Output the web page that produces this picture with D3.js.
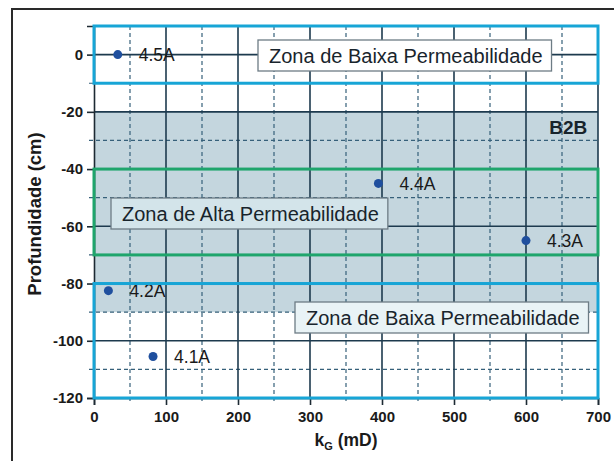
<!DOCTYPE html>
<html>
<head>
<meta charset="utf-8">
<script src="https://cdn.jsdelivr.net/npm/d3@7"></script>
<style>
  html, body { margin: 0; padding: 0; background: #fff; overflow: hidden; }
  svg { display: block; font-family: "Liberation Sans", Arial, Helvetica, sans-serif; }
</style>
</head>
<body>
<svg id="chart" width="614" height="461"></svg>
<script>
// Sample points: permeability kG (mD) vs depth (cm)
const sampleNames = ["4.5A", "4.4A", "4.3A", "4.2A", "4.1A"];
const kgValues    = [33, 395, 600, 20, 82];
const depthValues = [0, -45, -65, -82.5, -105.5];

// Axis ticks
const xTicks = [0, 100, 200, 300, 400, 500, 600, 700];
const yTicks = [0, -20, -40, -60, -80, -100, -120];
const xMinor = [50, 150, 250, 350, 450, 550, 650];
const yMinor = [-10, -30, -50, -70, -90, -110];

// Depth bands: shaded layer, permeability zones
const shadedBand = [-20, -90];
const zoneNames  = ["Zona de Baixa Permeabilidade", "Zona de Alta Permeabilidade", "Zona de Baixa Permeabilidade"];
const zoneTop    = [10, -40, -80];
const zoneBottom = [-10, -70, -120];
const zoneKind   = ["low", "high", "low"];
const layerLabel = "B2B";

const svg = d3.select("#chart");
const margin = { left: 94, right: 16, top: 26, bottom: 63 };
const W = 614, H = 461;

const x = d3.scaleLinear().domain([0, 700]).range([margin.left, W - margin.right]);
const y = d3.scaleLinear().domain([10, -120]).range([margin.top, H - margin.bottom]);

// Outer frame (top and left edges)
svg.append("path").attr("d", `M12,${H}V9H${W}`)
  .attr("fill", "none").attr("stroke", "#2a2a2a").attr("stroke-width", 2);

// Shaded layer
svg.append("rect")
  .attr("x", x(0)).attr("width", x(700) - x(0))
  .attr("y", y(shadedBand[0])).attr("height", y(shadedBand[1]) - y(shadedBand[0]))
  .attr("fill", "#c4d6de");

// Minor (dashed) grid
const gridDash = svg.append("g").attr("stroke", "#36607a").attr("stroke-width", 1.2)
  .attr("stroke-dasharray", "4,3");
gridDash.selectAll("line.vx").data(xMinor).join("line")
  .attr("x1", d => x(d)).attr("x2", d => x(d)).attr("y1", y(10)).attr("y2", y(-120) + 4);
gridDash.selectAll("line.hy").data(yMinor).join("line")
  .attr("y1", d => y(d)).attr("y2", d => y(d)).attr("x1", x(0) - 5).attr("x2", x(700));

// Major (solid) grid
const gridSolid = svg.append("g").attr("stroke", "#1d3a4e").attr("stroke-width", 1.6);
gridSolid.selectAll("line.vx").data(xTicks.slice(1)).join("line")
  .attr("x1", d => x(d)).attr("x2", d => x(d)).attr("y1", y(10)).attr("y2", y(-120));
gridSolid.selectAll("line.hy").data(yTicks).join("line")
  .attr("y1", d => y(d)).attr("y2", d => y(d)).attr("x1", x(0)).attr("x2", x(700));

// Axes
const fmt = d => String(d);
const yAxis = d3.axisLeft(y).tickValues(yTicks).tickFormat(fmt).tickSize(7).tickPadding(4);
const xAxis = d3.axisBottom(x).tickValues(xTicks).tickFormat(fmt).tickSize(7).tickPadding(6);
const gy = svg.append("g").attr("transform", `translate(${x(0)},0)`).call(yAxis);
const gx = svg.append("g").attr("transform", `translate(0,${y(-120)})`).call(xAxis);
[gx, gy].forEach(g => {
  g.select(".domain").attr("stroke", "#1d2a33").attr("stroke-width", 1.6);
  g.selectAll(".tick line").attr("stroke", "#1d2a33").attr("stroke-width", 1.6);
  g.selectAll(".tick text").attr("fill", "#1a1a1a").style("font-size", "15px")
    .style("font-weight", "bold").style("font-family", "'Liberation Sans', Arial, sans-serif");
});

// Points and labels
const pts = svg.append("g");
pts.selectAll("circle").data(sampleNames).join("circle")
  .attr("cx", (d, i) => x(kgValues[i])).attr("cy", (d, i) => y(depthValues[i]))
  .attr("r", 4.5).attr("fill", "#1f4f9e");
pts.selectAll("text").data(sampleNames).join("text")
  .attr("x", (d, i) => x(kgValues[i]) + 21).attr("y", (d, i) => y(depthValues[i]))
  .attr("dy", "0.36em").attr("fill", "#1a1a1a").style("font-size", "17.5px")
  .text(d => d);

// Zone outlines
svg.append("g").selectAll("rect").data(zoneNames).join("rect")
  .attr("x", x(0)).attr("width", x(700) - x(0))
  .attr("y", (d, i) => y(zoneTop[i])).attr("height", (d, i) => y(zoneBottom[i]) - y(zoneTop[i]))
  .attr("fill", "none")
  .attr("stroke", (d, i) => zoneKind[i] === "low" ? "#17a5d6" : "#1fa56c")
  .attr("stroke-width", 3);

// Zone label boxes
const boxX = [258, 111, 295];
const boxY = [40, 198, 302];
const boxFill = ["#ffffff", "#d3e4ea", "#e9f3f6"];
const boxes = svg.append("g");
zoneNames.forEach((name, i) => {
  const t = boxes.append("text")
    .attr("x", boxX[i] + 11).attr("y", boxY[i] + 16).attr("dy", "0.36em")
    .attr("fill", "#18242c").style("font-size", "20px").text(name);
  const w = t.node().getComputedTextLength();
  boxes.insert("rect", () => t.node())
    .attr("x", boxX[i]).attr("y", boxY[i]).attr("width", w + 20).attr("height", 31)
    .attr("fill", boxFill[i]).attr("stroke", "#6d7c85").attr("stroke-width", 1.3);
});

// Layer label
svg.append("text").attr("x", x(685)).attr("y", y(-25.5)).attr("dy", "0.36em")
  .attr("text-anchor", "end").attr("fill", "#18242c")
  .style("font-size", "19px").style("font-weight", "bold").text(layerLabel);

// Axis titles
svg.append("text")
  .attr("transform", `translate(41,${(y(10) + y(-120)) / 2 + 2}) rotate(-90)`)
  .attr("text-anchor", "middle").attr("fill", "#1a1a1a")
  .style("font-size", "18.5px").style("font-weight", "bold").text("Profundidade (cm)");

const xt = svg.append("text").attr("x", x(350)).attr("y", 446)
  .attr("text-anchor", "middle").attr("fill", "#1a1a1a")
  .style("font-size", "17.5px").style("font-weight", "bold");
xt.append("tspan").text("k");
xt.append("tspan").attr("dy", 4).style("font-size", "11px").text("G");
xt.append("tspan").attr("dy", -4).text(" (mD)");
</script>
</body>
</html>
